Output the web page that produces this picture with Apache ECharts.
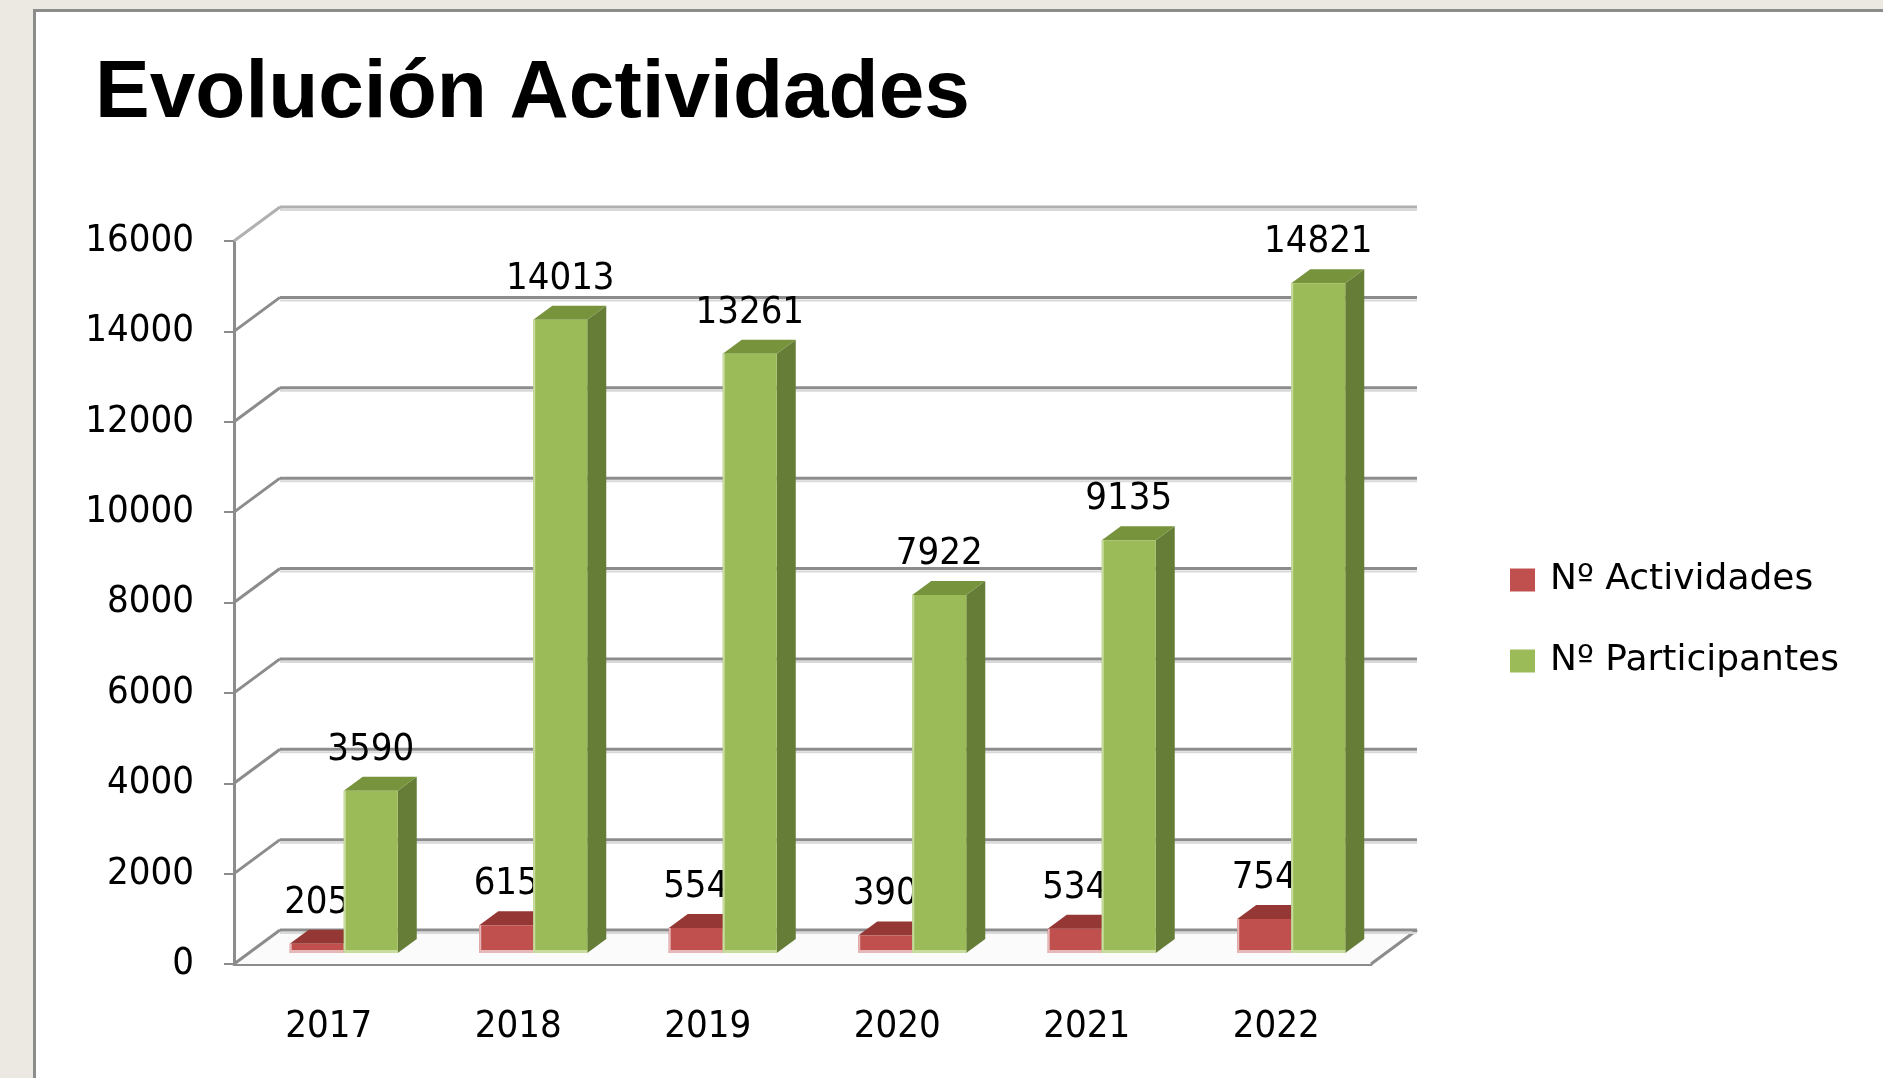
<!DOCTYPE html>
<html>
<head>
<meta charset="utf-8">
<script src="https://cdn.jsdelivr.net/npm/echarts@6/dist/echarts.min.js"></script>
<style>
  html, body { margin: 0; padding: 0; background: #ece9e2; }
  #frame { position: absolute; left: 33px; top: 9px; width: 1900px; height: 1100px;
           background: #fff; border-left: 3px solid #8c8c8c; border-top: 3px solid #8c8c8c; }
  #chart { position: absolute; left: 0; top: 0; width: 1883px; height: 1078px; }
</style>
</head>
<body>
<div id="frame"></div>
<div id="chart"></div>
<script>
// datos
const years = ['2017', '2018', '2019', '2020', '2021', '2022'];
const actividades = [205, 615, 554, 390, 534, 754];
const participantes = [3590, 14013, 13261, 7922, 9135, 14821];
const yTicks = [0, 2000, 4000, 6000, 8000, 10000, 12000, 14000, 16000];

// profundidad 3D (pared de fondo y barras)
const WALL_DX = 46, WALL_DY = -34;
const BAR_PX = 15, BAR_PY = -11;   // plano frontal de las barras
const BAR_DX = 19, BAR_DY = -14;   // fondo de cada barra
const FONT = '"DejaVu Sans Condensed", "DejaVu Sans", sans-serif';

var chart = echarts.init(document.getElementById('chart'));

function renderFrame(params, api) {
    let cs = params.coordSys;
    let v = api.value(0);
    let y = api.coord([0, v])[1];
    let x0 = cs.x, x1 = cs.x + cs.width;
    let lineStyle = { stroke: v === 16000 ? '#b0b0b0' : '#8c8c8c', lineWidth: 3 };
    let children = [];
    if (v === 0) {
        children.push({
            type: 'polygon',
            shape: { points: [[x0, y], [x1, y], [x1 + WALL_DX, y + WALL_DY], [x0 + WALL_DX, y + WALL_DY]] },
            style: { fill: '#fbfbfb' }
        });
        children.push({
            type: 'line',
            shape: { x1: x1, y1: y, x2: x1 + WALL_DX, y2: y + WALL_DY },
            style: lineStyle
        });
    }
    children.push({
        type: 'line',
        shape: { x1: x0 + WALL_DX, y1: y + WALL_DY + 3, x2: x1 + WALL_DX, y2: y + WALL_DY + 3 },
        style: { stroke: '#d9d9d9', lineWidth: 2 }
    });
    children.push({
        type: 'line',
        shape: { x1: x0 + WALL_DX, y1: y + WALL_DY, x2: x1 + WALL_DX, y2: y + WALL_DY },
        style: lineStyle
    });
    children.push({
        type: 'line',
        shape: { x1: x0, y1: y, x2: x0 + WALL_DX, y2: y + WALL_DY },
        style: lineStyle
    });
    return { type: 'group', children: children };
}

function makeBarRender(side, colors) {
    return function (params, api) {
        let ci = api.value(0);
        let v = api.value(1);
        let base = api.coord([ci, 0]);
        let top = api.coord([ci, v]);
        let bw = api.size([1, 0])[0];
        let w = bw * 0.285;
        let x = base[0] + (side === 0 ? -w : 0) + BAR_PX;
        let yb = base[1] + BAR_PY;
        let yt = top[1] + BAR_PY;
        return {
            type: 'group',
            children: [
                {
                    type: 'polygon',
                    shape: { points: [[x + w, yt], [x + w + BAR_DX, yt + BAR_DY], [x + w + BAR_DX, yb + BAR_DY], [x + w, yb]] },
                    style: { fill: colors.side }
                },
                {
                    type: 'polygon',
                    shape: { points: [[x, yt], [x + w, yt], [x + w + BAR_DX, yt + BAR_DY], [x + BAR_DX, yt + BAR_DY]] },
                    style: { fill: colors.top }
                },
                {
                    type: 'rect',
                    shape: { x: x, y: yt, width: w, height: yb - yt },
                    style: { fill: colors.front }
                },
                {
                    type: 'rect',
                    shape: { x: x, y: yt, width: 2, height: yb - yt },
                    style: { fill: colors.edge }
                },
                {
                    type: 'rect',
                    shape: { x: x, y: yb - 3, width: w, height: 3 },
                    style: { fill: colors.edge }
                },
                {
                    type: 'text',
                    style: {
                        text: String(v),
                        x: x + w / 2,
                        y: yt + BAR_DY - 8,
                        align: 'center',
                        verticalAlign: 'bottom',
                        fill: '#000',
                        fontSize: 38,
                        fontFamily: FONT
                    }
                }
            ]
        };
    };
}

let option = {
    animation: false,
    title: {
        text: 'Evolución Actividades',
        left: 90,
        top: 48,
        textStyle: {
            fontFamily: '"Liberation Sans", Arial, sans-serif',
            fontWeight: 'bold',
            fontSize: 82,
            lineHeight: 82,
            color: '#000'
        }
    },
    legend: {
        orient: 'vertical',
        left: 1505,
        top: 555,
        itemWidth: 25,
        itemHeight: 23,
        itemGap: 41,
        icon: 'rect',
        data: ['Nº Actividades', 'Nº Participantes'],
        textStyle: { fontSize: 36, lineHeight: 40, fontFamily: '"DejaVu Sans", sans-serif', color: '#000', padding: [0, 0, 0, 10] }
    },
    grid: { left: 234, top: 241, width: 1137, height: 723 },
    xAxis: {
        type: 'category',
        data: years,
        axisLine: { lineStyle: { color: '#8c8c8c', width: 3 } },
        axisTick: { length: 13, lineStyle: { color: '#8c8c8c', width: 2 } },
        axisLabel: { fontSize: 38, fontFamily: FONT, color: '#000', margin: 44 }
    },
    yAxis: {
        type: 'value',
        min: 0,
        max: 16000,
        interval: 2000,
        axisLine: { show: true, lineStyle: { color: '#8c8c8c', width: 3 } },
        axisTick: { show: true, length: 10, lineStyle: { color: '#8c8c8c', width: 2 } },
        splitLine: { show: false },
        axisLabel: {
            fontSize: 38, fontFamily: FONT, color: '#000', margin: 40,
            formatter: function (value) { return String(value); }
        }
    },
    series: [
        {
            name: 'frame',
            type: 'custom',
            renderItem: renderFrame,
            data: yTicks.map(t => [t]),
            encode: { y: 0 },
            silent: true,
            z: 1
        },
        {
            name: 'Nº Actividades',
            type: 'custom',
            itemStyle: { color: '#c0504d' },
            renderItem: makeBarRender(0, { front: '#c0504d', side: '#8c3836', top: '#953735', edge: '#e6b9b8' }),
            data: years.map((y, i) => [i, actividades[i]]),
            encode: { x: 0, y: 1 },
            z: 2
        },
        {
            name: 'Nº Participantes',
            type: 'custom',
            itemStyle: { color: '#9bbb59' },
            renderItem: makeBarRender(1, { front: '#9bbb59', side: '#667d38', top: '#77933c', edge: '#c9dc9f' }),
            data: years.map((y, i) => [i, participantes[i]]),
            encode: { x: 0, y: 1 },
            z: 3
        }
    ]
};

chart.setOption(option);
</script>
</body>
</html>
